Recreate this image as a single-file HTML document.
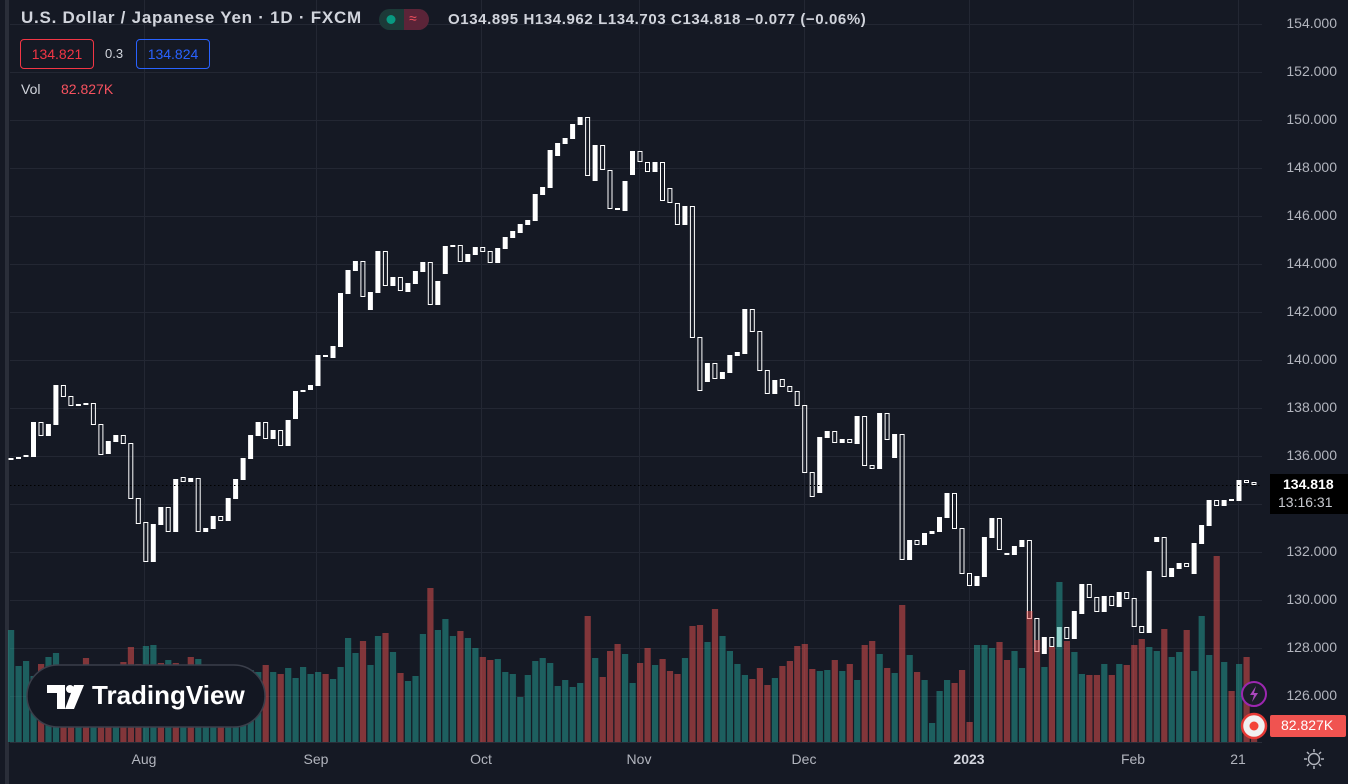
<!DOCTYPE html>
<html><head><meta charset="utf-8">
<style>
html,body{margin:0;padding:0;background:#151924;}
body{width:1348px;height:784px;position:relative;overflow:hidden;font-family:"Liberation Sans",sans-serif;}
.t{position:absolute;white-space:nowrap;}
.pl{position:absolute;right:11px;color:#b2b5be;font-size:14px;}
.tl{position:absolute;top:751px;color:#b2b5be;font-size:14px;transform:translateX(-50%);}
</style></head><body>
<svg id="s" width="1348" height="784" style="position:absolute;left:0;top:0">
<rect x="0" y="0" width="1348" height="784" fill="#151924"/>
<rect x="5" y="0" width="4" height="784" fill="#2a2e39"/>
<g id="grid" stroke="#232733" stroke-width="1"></g>
<g id="candles"></g>
<g id="vol"></g>
<line x1="10" y1="742.5" x2="1262" y2="742.5" stroke="#2a2e39"/>
<line x1="10" y1="485.5" x2="1262" y2="485.5" stroke="#000" stroke-dasharray="1.5,2.5"/>
<rect x="1270" y="474" width="78" height="40" fill="#000"/>
<rect x="1270" y="715" width="76" height="22" rx="2" fill="#f05350"/>
<circle cx="1254" cy="694" r="12" fill="#1b1e29" stroke="#9c27b0" stroke-width="2"/>
<path d="M1256 686 L1250 695 L1254 695 L1252 702 L1258 693 L1254 693 Z" fill="#ab47bc"/>
<circle cx="1254" cy="726" r="12" fill="#f0f0f0" stroke="#e53935" stroke-width="2.5"/>
<circle cx="1254" cy="726" r="4.5" fill="#f44336"/>
<rect x="27" y="665" width="238" height="62" rx="31" fill="#131722" stroke="#3b3f4b" stroke-width="1.5"/>
<path d="M47 685 H65 V709 H57 V693 H47 Z" fill="#fff"/>
<circle cx="70" cy="689" r="4" fill="#fff"/>
<path d="M74 685 H84 L74 709 H65 Z" fill="#fff"/>
<rect x="379" y="9" width="50" height="21" rx="10.5" fill="#1c3a38"/>
<path d="M404 9 H418.5 A10.5 10.5 0 0 1 418.5 30 H404 Z" fill="#5b2438"/>
<circle cx="391" cy="19.5" r="4.5" fill="#089981"/>
<g stroke="#b2b5be" stroke-width="1.5" fill="none">
<circle cx="1314" cy="759" r="5.5"/>
<path d="M1314 749v3M1314 766v3M1304 759h3M1321 759h3M1307 752l2 2M1319 764l2 2M1321 752l-2 2M1309 764l-2 2"/>
</g>
</svg>
<div class="t" style="left:21px;top:8px;font-size:17px;font-weight:bold;letter-spacing:0.75px;color:#d1d4dc;">U.S. Dollar / Japanese Yen · 1D · FXCM</div>
<div class="t" style="left:409px;top:10px;font-size:14px;color:#f7525f;">≈</div>
<div class="t" style="left:448px;top:11px;font-size:15px;font-weight:bold;letter-spacing:0.6px;color:#d1d4dc;">O134.895 H134.962 L134.703 C134.818 −0.077 (−0.06%)</div>
<div class="t" style="left:20px;top:39px;width:72px;height:28px;border:1px solid #f23645;border-radius:4px;color:#f23645;font-size:14px;line-height:28px;text-align:center;">134.821</div>
<div class="t" style="left:105px;top:46px;font-size:13px;color:#d1d4dc;">0.3</div>
<div class="t" style="left:136px;top:39px;width:72px;height:28px;border:1px solid #2962ff;border-radius:4px;color:#2962ff;font-size:14px;line-height:28px;text-align:center;">134.824</div>
<div class="t" style="left:21px;top:81px;font-size:14px;color:#d1d4dc;">Vol</div>
<div class="t" style="left:61px;top:81px;font-size:14px;color:#f7525f;">82.827K</div>
<div class="t" style="left:92px;top:680px;font-size:26px;font-weight:bold;color:#fff;">TradingView</div>
<div class="pl" style="top:15px">154.000</div>
<div class="pl" style="top:63px">152.000</div>
<div class="pl" style="top:111px">150.000</div>
<div class="pl" style="top:159px">148.000</div>
<div class="pl" style="top:207px">146.000</div>
<div class="pl" style="top:255px">144.000</div>
<div class="pl" style="top:303px">142.000</div>
<div class="pl" style="top:351px">140.000</div>
<div class="pl" style="top:399px">138.000</div>
<div class="pl" style="top:447px">136.000</div>
<div class="pl" style="top:543px">132.000</div>
<div class="pl" style="top:591px">130.000</div>
<div class="pl" style="top:639px">128.000</div>
<div class="pl" style="top:687px">126.000</div>
<div class="t" style="left:1283px;top:476px;font-size:14px;font-weight:bold;color:#fff;">134.818</div>
<div class="t" style="left:1278px;top:494px;font-size:14px;color:#c8cad0;">13:16:31</div>
<div class="t" style="left:1281px;top:717px;font-size:14px;color:#fff;">82.827K</div>
<div class="tl" style="left:144px">Aug</div>
<div class="tl" style="left:316px">Sep</div>
<div class="tl" style="left:481px">Oct</div>
<div class="tl" style="left:639px">Nov</div>
<div class="tl" style="left:804px">Dec</div>
<div class="tl" style="left:969px;font-weight:bold;color:#d1d4dc">2023</div>
<div class="tl" style="left:1133px">Feb</div>
<div class="tl" style="left:1238px">21</div>
<script>
var NS="http://www.w3.org/2000/svg";
function el(n,a,p){var e=document.createElementNS(NS,n);for(var k in a)e.setAttribute(k,a[k]);p.appendChild(e);return e;}
var g=document.getElementById('grid');
for(var i=0;i<15;i++){var y=24+i*48+0.5;el('line',{x1:10,y1:y,x2:1262,y2:y},g);}
[144,316,481,639,804,969,1133,1238].forEach(function(x){el('line',{x1:x+0.5,y1:0,x2:x+0.5,y2:742},g);});
var C=[[458,460,1],[457,459,1],[455,457,1],[422,457,1],[422,436,0],[424,436,1],[385,425,1],[385,397,0],[396,406,0],[404,406,1],[403,405,1],[403,425,0],[424,455,0],[441,454,1],[435,442,1],[435,444,0],[443,499,0],[498,524,0],[522,562,0],[524,562,1],[507,525,1],[507,532,0],[479,532,1],[477,482,0],[478,482,1],[478,532,0],[528,532,1],[516,529,1],[516,521,0],
[498,521,1],[479,499,1],[458,480,1],[435,459,1],[422,436,1],[422,439,0],[430,439,1],[430,446,0],[420,446,1],[391,419,1],[390,392,1],[385,390,1],[355,386,1],[355,357,1],[346,358,1],[293,347,1],[270,294,1],[261,271,1],[261,297,0],[292,310,1],[251,293,1],[251,286,0],[277,286,1],[277,291,0],[283,292,1],[271,284,1],[262,272,1],[262,305,0],
[281,305,1],[246,274,1],[245,247,1],[245,262,0],[254,262,1],[247,255,1],[247,252,0],[251,263,0],[248,263,1],[237,249,1],[231,238,1],[224,233,1],[220,225,1],[194,221,1],[187,195,1],[150,188,1],[143,156,1],[138,144,1],[124,139,1],[117,125,1],[117,176,0],[145,181,1],[145,170,0],[170,209,0],[208,210,0],[181,211,1],[151,175,1],[151,162,0],
[162,172,0],[162,172,1],[162,201,0],[188,203,0],[203,225,0],[206,225,1],[206,338,0],[337,391,0],[363,382,1],[363,379,0],[372,379,1],[355,373,1],[352,356,1],[309,354,1],[309,332,0],[331,371,0],[370,394,0],[380,394,1],[379,387,0],[386,392,0],[391,406,0],[405,473,0],[472,497,0],[437,493,1],[431,438,1],[431,443,0],[439,443,1],[439,443,0],[416,444,1],[416,466,0],[465,469,0],[413,469,1],[413,440,0],[434,458,1],
[434,560,0],[540,560,1],[540,545,0],[533,545,1],[531,534,1],[517,532,1],[493,518,1],[493,529,0],[528,574,0],[573,586,0],[576,586,1],[537,577,1],[518,538,1],[518,550,0],[553,555,1],[546,555,1],[540,547,1],[540,619,0],[618,652,0],[637,654,1],[637,647,0],[627,647,1],[627,639,0],[611,639,1],[584,614,1],[584,598,0],[597,612,0],[596,612,1],[596,606,0],[592,607,1],[592,599,0],[598,627,0],[626,633,0],[571,633,1],[537,542,1],[537,577,0],[568,577,1],[563,569,1],[563,567,0],[543,574,1],[525,544,1],[500,526,1],[500,506,0],[500,506,1],[499,501,1],[480,501,1],[480,483,0],[482,485,0]];
var T=1,R=0;
var V=[[630,T],[666,T],[661,T],[676,T],[664,R],[657,T],[653,T],[668,R],[670,R],[672,T],[658,R],[672,T],[670,R],[670,R],[672,T],[662,R],[647,R],[664,R],[646,T],[645,T],[663,R],[660,T],[663,R],[668,T],[657,R],[659,T],[672,T],[672,T],[670,R],[672,T],[672,T],[672,T],[670,T],[672,T],[665,R],[672,T],[674,R],[668,T],[678,T],[667,T],[674,T],[672,T],[674,R],[679,T],[667,T],[638,T],[653,T],[641,R],[665,T],[636,T],[633,R],[652,T],[673,R],[681,T],[676,T],
[634,T],[588,R],[630,T],[619,T],[636,T],[631,R],[638,T],[648,T],[657,R],[660,R],[659,T],[672,T],[674,T],[697,T],[675,T],[661,T],[658,T],[663,T],[686,T],[680,T],[687,T],[683,T],[616,R],[658,T],[677,R],[651,R],[644,R],[654,T],[683,T],[663,R],[648,R],[665,T],[659,R],[671,R],[674,R],[658,T],[626,R],[625,R],[642,T],[609,R],[636,T],[651,T],[664,T],[675,T],[679,R],[668,R],[685,R],[678,T],[666,R],[661,R],[646,R],[644,R],[669,R],[671,T],[670,T],[660,R],
[671,T],[664,R],[680,T],[645,R],[641,R],[654,T],[668,R],[673,T],[605,R],[655,T],[672,R],[680,T],[723,T],[691,T],[680,T],[683,R],[670,R],[722,R],[645,T],[645,T],[648,T],[642,R],[660,R],[651,T],[668,T],[611,R],[640,R],[667,T],[647,R],[582,T],[641,R],[652,T],[674,T],[675,R],[675,R],[664,T],[675,R],[664,T],[665,R],[645,R],[639,R],[647,T],[651,T],[629,R],[657,T],[652,T],[630,R],[671,T],[616,T],[655,T],[556,R],[662,T],[691,R],[664,T],[657,R],[735,R]];
var cg=document.getElementById('candles'),vg=document.getElementById('vol');
function X(i){return 11+i*7.488;}
C.forEach(function(c,i){var x=X(i),t=c[0],b=c[1];if(b-t<2)b=t+2;
 if(c[2])el('rect',{x:(x-2.5).toFixed(1),y:t,width:5,height:b-t,fill:'#fff'},cg);
 else el('rect',{x:(x-2).toFixed(1),y:t+0.5,width:4,height:Math.max(1,b-t-1),fill:'none',stroke:'#fff','stroke-width':1},cg);});
V.forEach(function(v,i){var x=X(i);el('rect',{x:(x-3).toFixed(1),y:v[0],width:6.2,height:742-v[0],fill:v[1]?'rgba(38,166,154,0.5)':'rgba(239,83,80,0.5)'},vg);});
</script>
</body></html>
